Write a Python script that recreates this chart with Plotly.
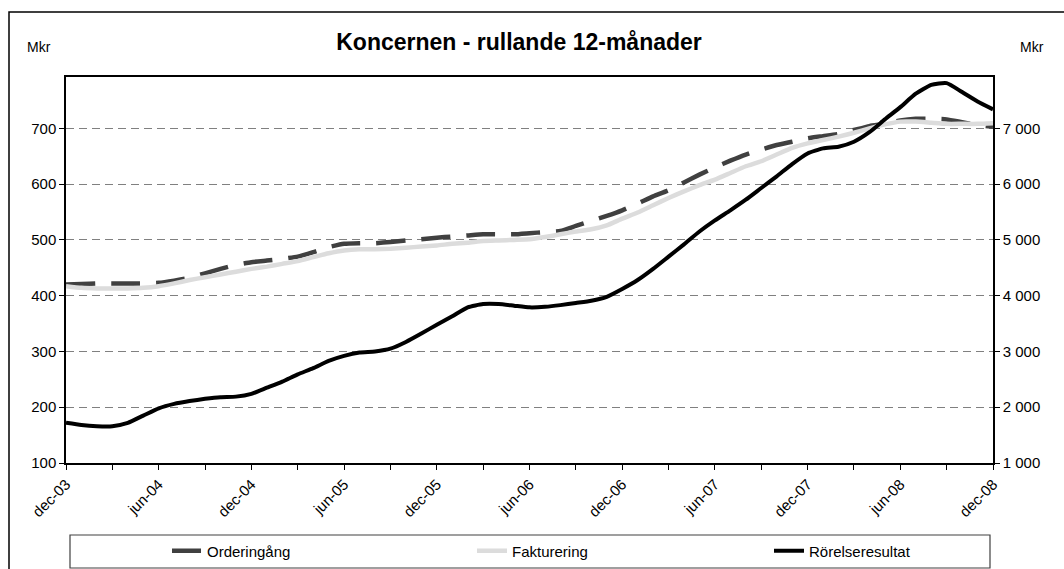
import plotly.graph_objects as go

# ---- data (monthly, dec-03 .. dec-08) ----
month_names = ["jan", "feb", "mar", "apr", "maj", "jun", "jul", "aug", "sep", "okt", "nov", "dec"]
months = ["dec-03"] + [f"{month_names[i % 12]}-{4 + i // 12:02d}" for i in range(60)]

orderingang = [4200, 4210, 4220, 4220, 4220, 4220, 4230, 4270, 4320, 4400,
               4480, 4550, 4600, 4630, 4660, 4700, 4780, 4870, 4930, 4940,
               4940, 4960, 4990, 5010, 5040, 5060, 5080, 5100, 5100, 5100,
               5120, 5140, 5160, 5250, 5340, 5430, 5530, 5650, 5780, 5890,
               6030, 6170, 6300, 6420, 6530, 6620, 6700, 6760, 6820, 6860,
               6900, 6970, 7040, 7080, 7140, 7170, 7170, 7160, 7110, 7060, 7030]

fakturering = [4170, 4140, 4130, 4130, 4130, 4140, 4170, 4220, 4280, 4330,
               4380, 4430, 4480, 4520, 4570, 4620, 4690, 4760, 4810, 4830,
               4830, 4840, 4860, 4880, 4900, 4930, 4950, 4980, 4990, 5000,
               5010, 5050, 5100, 5150, 5190, 5260, 5380, 5490, 5620, 5750,
               5870, 5980, 6080, 6200, 6320, 6410, 6530, 6650, 6730, 6790,
               6850, 6920, 7000, 7070, 7120, 7120, 7100, 7080, 7080, 7080, 7090]

rorelseresultat = [172, 168, 166, 166, 172, 185, 198, 206, 211, 215,
                   218, 219, 224, 235, 246, 259, 270, 283, 292, 298,
                   300, 305, 317, 332, 348, 363, 379, 385, 385, 382,
                   379, 380, 383, 387, 391, 398, 412, 428, 448, 470,
                   492, 515, 535, 553, 572, 593, 614, 636, 655, 664,
                   667, 676, 693, 716, 738, 762, 778, 781, 765, 748, 734]

tick_months = months[::3]
tick_labels = [m if i % 2 == 0 else "" for i, m in enumerate(tick_months)]

left_ticks = [100, 200, 300, 400, 500, 600, 700]
right_ticks = [1000, 2000, 3000, 4000, 5000, 6000, 7000]

FONT = "Liberation Sans, Arial, sans-serif"

# plot-area geometry in page pixels (used to place decorations)
L, R, T, B = 66, 993, 77, 463
W, H = R - L, B - T


def px(xp):
    return (xp - L) / W


def py(yp):
    return (B - yp) / H


fig = go.Figure()
fig.add_trace(go.Scatter(
    x=months, y=orderingang, name="Orderingång", yaxis="y", legend="legend",
    mode="lines", line=dict(color="#404040", width=4.5, dash="29px,16px",
                            shape="spline", smoothing=0.5)))
fig.add_trace(go.Scatter(
    x=months, y=fakturering, name="Fakturering", yaxis="y", legend="legend2",
    mode="lines", line=dict(color="#dcdcdc", width=4.5, shape="spline", smoothing=0.5)))
fig.add_trace(go.Scatter(
    x=months, y=rorelseresultat, name="Rörelseresultat", yaxis="y2", legend="legend3",
    mode="lines", line=dict(color="#000000", width=4, shape="spline", smoothing=0.5)))

legend_common = dict(orientation="h", xanchor="left", yanchor="middle",
                     y=py(551), bgcolor="rgba(0,0,0,0)", borderwidth=0,
                     font=dict(family=FONT, size=15))

fig.update_layout(
    width=1064, height=569,
    margin=dict(l=L, r=1064 - R, t=T, b=569 - B, autoexpand=False),
    paper_bgcolor="white", plot_bgcolor="white",
    font=dict(family=FONT, size=15, color="black"),
    separators=", ",
    title=dict(text="<b>Koncernen - rullande 12-månader</b>",
               font=dict(family=FONT, size=23, color="black"),
               x=519 / 1064, xanchor="center", xref="container",
               y=1 - 42 / 569, yanchor="middle", yref="container"),
    xaxis=dict(
        type="category", categoryorder="array", categoryarray=months,
        range=[0, len(months) - 1], automargin=False,
        tickmode="array", tickvals=tick_months, ticktext=tick_labels,
        tickangle=-45, ticks="outside", ticklen=5, tickcolor="black", tickwidth=1,
        showline=True, linecolor="black", linewidth=1.5, mirror=True,
        showgrid=False, zeroline=False,
        tickfont=dict(family=FONT, size=15)),
    yaxis=dict(
        side="right", range=[1000, 7920], automargin=False,
        tickmode="array", tickvals=right_ticks, tickformat=",d",
        ticks="outside", ticklen=5, tickcolor="black",
        showline=True, linecolor="black", linewidth=1.5,
        showgrid=True, gridcolor="#808080", gridwidth=1, griddash="8px,5px",
        zeroline=False, tickfont=dict(family=FONT, size=15)),
    yaxis2=dict(
        side="left", overlaying="y", range=[100, 792], automargin=False,
        tickmode="array", tickvals=left_ticks,
        ticks="outside", ticklen=5, tickcolor="black",
        showline=True, linecolor="black", linewidth=1.5,
        showgrid=False, zeroline=False, tickfont=dict(family=FONT, size=15)),
    legend=dict(x=px(167), **legend_common),
    legend2=dict(x=px(472), **legend_common),
    legend3=dict(x=px(769), **legend_common),
    showlegend=True,
)

# outer chart frame and legend box
fig.add_shape(type="rect", xref="paper", yref="paper",
              x0=px(9), x1=px(1070), y0=py(580), y1=py(12),
              line=dict(color="black", width=1.5), layer="below")
fig.add_shape(type="rect", xref="paper", yref="paper",
              x0=px(70), x1=px(990), y0=py(568), y1=py(535),
              line=dict(color="#404040", width=1.2), layer="below")

# unit labels
fig.add_annotation(text="Mkr", xref="paper", yref="paper",
                   x=px(39), y=py(47), showarrow=False,
                   font=dict(family=FONT, size=14), xanchor="center", yanchor="middle")
fig.add_annotation(text="Mkr", xref="paper", yref="paper",
                   x=px(1032), y=py(47), showarrow=False,
                   font=dict(family=FONT, size=14), xanchor="center", yanchor="middle")

fig.write_html("out.html",
               config={"displayModeBar": False},
               post_script="document.body.style.margin='0';document.body.style.padding='0';")
